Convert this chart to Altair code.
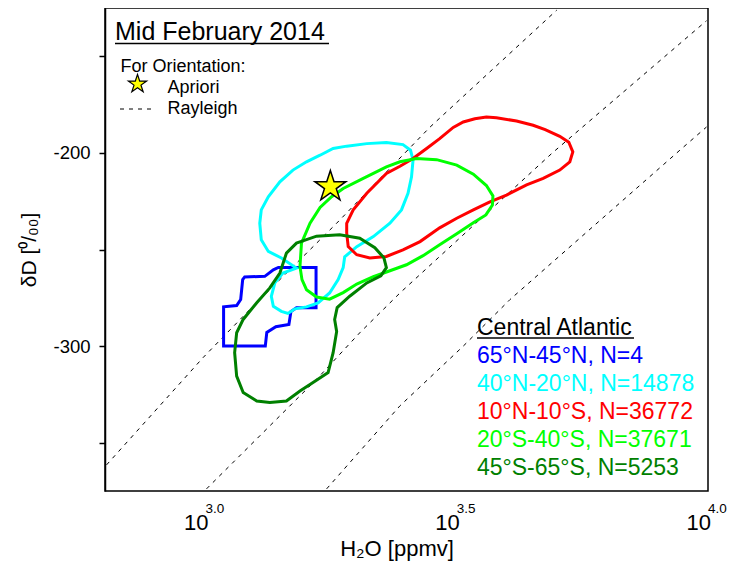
import altair as alt
import pandas as pd

# ---------------- data (x = log10 H2O [ppmv], y = dD [permil]) ----------------
regions = ["65°N-45°N", "40°N-20°N", "10°N-10°S", "20°S-40°S", "45°S-65°S"]
counts = [4, 14878, 36772, 37671, 5253]
colors = ["#0000ff", "#00ffff", "#ff0000", "#00ff00", "#008000"]

blue_x = [3.145, 3.220, 3.220, 3.181, 3.170, 3.166, 3.140, 3.122, 3.119, 3.036, 3.036,
          3.062, 3.070, 3.074, 3.078, 3.118, 3.135]
blue_y = [-259.3, -259.3, -280.2, -280.2, -282.1, -288.8, -290.0, -292.9, -300.0, -300.0,
          -279.7, -279.0, -275.9, -265.6, -264.2, -263.9, -260.5]

cyan_x = [3.181, 3.154, 3.138, 3.131, 3.135, 3.151, 3.164, 3.178, 3.201, 3.224, 3.247,
          3.264, 3.274, 3.277, 3.301, 3.334, 3.367, 3.390, 3.403, 3.410, 3.413, 3.408,
          3.393, 3.360, 3.321, 3.281, 3.254, 3.228, 3.201, 3.174, 3.148, 3.125, 3.111,
          3.108, 3.111, 3.125, 3.151]
cyan_y = [-259.6, -262.2, -267.3, -274.2, -279.4, -282.0, -283.1, -280.7, -279.7, -277.6,
          -272.5, -265.6, -259.4, -253.8, -248.5, -243.3, -236.4, -229.5, -220.9, -212.4,
          -203.8, -198.6, -195.7, -194.6, -195.2, -196.5, -197.7, -201.2, -204.6, -208.9,
          -215.0, -222.7, -229.5, -236.4, -245.0, -251.0, -254.4]

red_x = [3.281, 3.284, 3.301, 3.327, 3.360, 3.393, 3.427, 3.466, 3.500, 3.533, 3.566,
         3.599, 3.639, 3.672, 3.705, 3.725, 3.731, 3.723, 3.705, 3.676, 3.652, 3.619,
         3.579, 3.559, 3.536, 3.513, 3.493, 3.466, 3.440, 3.413, 3.387, 3.360, 3.321,
         3.294, 3.281]
red_y = [-241.5, -248.5, -252.7, -254.4, -253.6, -250.2, -245.9, -238.8, -233.8, -229.5,
         -225.3, -221.8, -216.6, -213.2, -208.9, -204.6, -199.5, -194.5, -191.4, -188.0,
         -185.7, -183.5, -181.8, -181.4, -182.3, -184.0, -186.8, -192.6, -197.7, -202.9,
         -206.9, -210.6, -220.9, -229.5, -236.4]

green_x = [3.188, 3.191, 3.208, 3.228, 3.251, 3.274, 3.314, 3.360, 3.387, 3.420, 3.460,
           3.500, 3.533, 3.559, 3.572, 3.571, 3.558, 3.533, 3.500, 3.466, 3.433, 3.400,
           3.367, 3.334, 3.301, 3.274, 3.247, 3.221, 3.201, 3.192]
green_y = [-258.8, -246.7, -236.4, -228.2, -222.7, -218.4, -213.2, -207.2, -204.6, -202.9,
           -203.5, -206.3, -211.0, -216.9, -222.3, -227.0, -232.1, -236.2, -241.9, -247.6,
           -253.2, -257.9, -261.0, -264.1, -267.9, -272.3, -275.7, -274.6, -270.8, -265.6]

dgreen_x = [3.148, 3.161, 3.181, 3.221, 3.267, 3.307, 3.337, 3.355, 3.360, 3.349, 3.321,
            3.287, 3.262, 3.257, 3.261, 3.254, 3.244, 3.214, 3.188, 3.161, 3.128, 3.102,
            3.075, 3.062, 3.058, 3.062, 3.075, 3.102, 3.128]
dgreen_y = [-262.2, -251.9, -246.7, -243.1, -242.4, -244.2, -249.1, -254.3, -259.4, -263.6,
            -267.3, -274.2, -280.1, -286.2, -292.4, -303.4, -313.7, -318.9, -323.2, -328.4,
            -329.2, -328.4, -324.0, -315.5, -303.4, -293.1, -286.2, -277.6, -269.9]

# Rayleigh reference curves (dashed)
rayA_x = [2.803, 2.995, 3.088, 3.261, 3.447, 3.699]
rayA_y = [-361.5, -306.0, -281.1, -236.4, -186.6, -126.1]
rayB_x = [3.002, 3.221, 3.307, 3.387, 3.689, 3.997]
rayB_y = [-373.9, -317.2, -293.1, -272.5, -200.3, -131.6]
rayC_x = [3.241, 3.387, 3.513, 3.606, 3.944, 3.997]
rayC_y = [-373.9, -330.9, -300.0, -275.9, -198.6, -186.6]

# Apriori point
star_x = [3.2485]
star_y = [-217.5]

# axis tick values / labels
xtick_vals = [3.0, 3.25, 3.5, 3.75, 4.0]
xlab_vals = [3.0, 3.5, 4.0]
xlab_exp = ["3.0", "3.5", "4.0"]
ytick_vals = [-350, -300, -250, -200, -150]

# ---------------- tables ----------------
rows = []
for name, xs, ys in zip(regions, [blue_x, cyan_x, red_x, green_x, dgreen_x],
                        [blue_y, cyan_y, red_y, green_y, dgreen_y]):
    for i, (a, b) in enumerate(zip(xs, ys)):
        rows.append({"region": name, "i": i, "x": a, "y": b})
contours = pd.DataFrame(rows)

rrows = []
for lid, xs, ys in zip(["A", "B", "C"], [rayA_x, rayB_x, rayC_x], [rayA_y, rayB_y, rayC_y]):
    for i, (a, b) in enumerate(zip(xs, ys)):
        rrows.append({"line": lid, "i": i, "x": a, "y": b})
rayleigh = pd.DataFrame(rrows)

star_df = pd.DataFrame({"x": star_x, "y": star_y})
xlab_df = pd.DataFrame({"x": xlab_vals, "exp": xlab_exp})

FONT = "Liberation Sans"
STAR = ("M0,-1 L0.2245,-0.309 L0.951,-0.309 L0.363,0.118 L0.588,0.809 L0,0.382 "
        "L-0.588,0.809 L-0.363,0.118 L-0.951,-0.309 L-0.2245,-0.309 Z")

xscale = alt.Scale(domain=[2.8, 4.0], nice=False, zero=False)
yscale = alt.Scale(domain=[-375, -125], nice=False, zero=False)

ax_x = alt.Axis(values=xtick_vals, labels=False, title=None, grid=False, tickSize=6,
                tickColor="black", tickWidth=1.5, domainColor="black", domainWidth=1.5)
ax_y = alt.Axis(values=ytick_vals, title=None, grid=False, tickSize=6, tickColor="black",
                tickWidth=1.5, domainColor="black", domainWidth=1.5,
                labelExpr="datum.value % 100 == 0 ? '' + datum.value : ''",
                labelFont=FONT, labelFontSize=18.5, labelColor="black", labelPadding=9)

X = alt.X("x:Q", scale=xscale, axis=ax_x)
Y = alt.Y("y:Q", scale=yscale, axis=ax_y)

ray_layer = alt.Chart(rayleigh).mark_line(
    color="black", strokeWidth=1, strokeDash=[4, 5], clip=True
).encode(x=X, y=Y, detail="line:N", order="i:Q")

contour_layer = alt.Chart(contours).mark_line(
    strokeWidth=3, interpolate="linear-closed", clip=True
).encode(
    x=X, y=Y,
    color=alt.Color("region:N", scale=alt.Scale(domain=regions, range=colors), legend=None),
    order="i:Q",
)

star_layer = alt.Chart(star_df).mark_point(
    shape=STAR, size=1060, filled=True, fill="#ffff00", stroke="black",
    strokeWidth=1.5, opacity=1
).encode(x=X, y=Y)

one = alt.Data(values=[{}])


def txt(s, x, y, size, color="black", align="left", baseline="alphabetic", angle=0):
    return alt.Chart(one).mark_text(
        text=s, align=align, baseline=baseline, font=FONT, fontSize=size,
        color=color, angle=angle
    ).encode(x=alt.value(x), y=alt.value(y))


def hline(x1, x2, y, dash=None, width=1.5):
    kw = dict(color="black", strokeWidth=width)
    if dash:
        kw["strokeDash"] = dash
    return alt.Chart(one).mark_rule(**kw).encode(
        x=alt.value(x1), x2=alt.value(x2), y=alt.value(y))


# x tick labels 10^a
xlab10 = alt.Chart(xlab_df).mark_text(
    text="10", align="right", baseline="alphabetic", dx=3, font=FONT, fontSize=22, color="black"
).encode(x=alt.X("x:Q", scale=xscale, axis=None), y=alt.value(522))
xlabexp = alt.Chart(xlab_df).mark_text(
    align="left", baseline="alphabetic", dx=0, font=FONT, fontSize=13.5, color="black"
).encode(x=alt.X("x:Q", scale=xscale, axis=None), y=alt.value(505), text="exp:N")

layers = [ray_layer, contour_layer, star_layer, xlab10, xlabexp]

# titles
layers.append(txt("H₂O [ppmv]", 292, 548, 22, align="center"))
layers.append(txt("δD [⁰/₀₀]", -75, 242, 21, align="center", baseline="middle", angle=270))

# top-left annotation
layers.append(txt("Mid February 2014", 10, 32, 25))
layers.append(hline(10, 224, 35.5))
layers.append(txt("For Orientation:", 15.5, 63.5, 18))
layers.append(alt.Chart(one).mark_point(
    shape=STAR, size=370, filled=True, fill="#ffff00", stroke="black",
    strokeWidth=1.2, opacity=1).encode(x=alt.value(32.5), y=alt.value(76)))
layers.append(txt("Apriori", 62.5, 85, 18))
layers.append(hline(15, 50, 101, dash=[4, 5], width=1))
layers.append(txt("Rayleigh", 62.5, 106, 18))

# region legend
layers.append(txt("Central Atlantic", 372, 327, 23))
layers.append(hline(372, 529, 330))
for k, (name, n, c) in enumerate(zip(regions, counts, colors)):
    layers.append(txt(f"{name}, N={n}", 372, 355 + 28 * k, 23, color=c))

chart = alt.layer(*layers).properties(
    width=603, height=483,
    background="white",
    autosize=alt.AutoSizeParams(type="none"),
    padding={"left": 97, "top": 0, "right": 19, "bottom": 70},
).configure_view(stroke="black", strokeWidth=1.5)

chart.save("out.html", embed_options={"renderer": "svg", "actions": False})
